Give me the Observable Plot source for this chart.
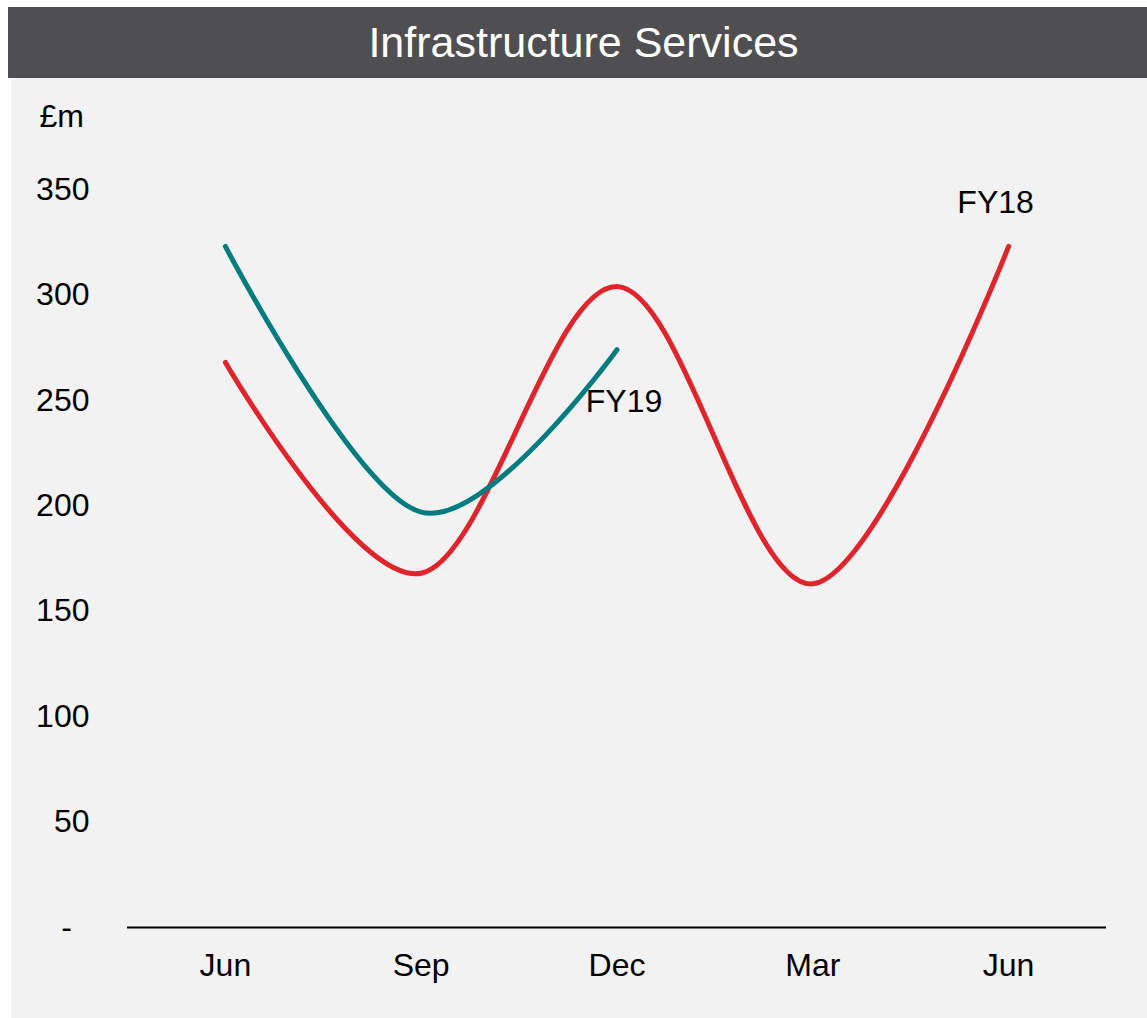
<!DOCTYPE html>
<html>
<head>
<meta charset="utf-8">
<script src="https://cdn.jsdelivr.net/npm/d3@7"></script>
<script src="https://cdn.jsdelivr.net/npm/@observablehq/plot@0.6"></script>
<style>
  html, body { margin: 0; padding: 0; background: #ffffff; }
  body { width: 1147px; height: 1018px; position: relative; overflow: hidden;
         font-family: "Liberation Sans", Arial, sans-serif; }
  #title { position: absolute; left: 8px; top: 7px; width: 1127px; padding-left: 12px; height: 71px;
           background: #4f4f51; color: #ffffff; font-size: 43px; line-height: 71px;
           text-align: center; }
  #panel { position: absolute; left: 11px; top: 78px; width: 1136px; height: 940px;
           background: #f2f2f2; }
  #panel svg { display: block; }
</style>
</head>
<body>
<div id="title">Infrastructure Services</div>
<div id="panel"></div>
<script>
// Quarter-end labels along the x axis (FY18 runs Jun → Jun)
const months = ["Jun", "Sep", "Dec", "Mar", "Jun"];

// Revenue, £m, per quarter
const fy18 = [268, 168, 304, 163, 323];
const fy19 = [323, 197, 274];

const yTicks = [0, 50, 100, 150, 200, 250, 300, 350];

const rows = [
  ...fy18.map((v, i) => ({series: "FY18", q: i, value: v})),
  ...fy19.map((v, i) => ({series: "FY19", q: i, value: v}))
];
const last18 = rows.filter(d => d.series === "FY18").at(-1);
const last19 = rows.filter(d => d.series === "FY19").at(-1);

const FS = 32;

const chart = Plot.plot({
  width: 1136,
  height: 940,
  marginLeft: 116,
  marginRight: 41,
  marginTop: 111,
  marginBottom: 91,
  style: {background: "transparent", fontFamily: "Liberation Sans, Arial, sans-serif", fontSize: FS + "px", color: "#000"},
  x: {type: "point", domain: months.map((_, i) => i), padding: 0.5, round: false},
  y: {domain: [0, 350]},
  color: {domain: ["FY18", "FY19"], range: ["#e0242b", "#007c80"]},
  marks: [
    Plot.axisY(yTicks, {tickSize: 0, tickPadding: 38, label: null,
      tickFormat: d => d === 0 ? "" : d3.format(",")(d), fontSize: FS}),
    Plot.text([0], {y: d => d, frameAnchor: "left", dx: -61, textAnchor: "middle",
      text: () => "-", fontSize: FS}),
    Plot.axisX({tickSize: 0, tickPadding: 26, label: null,
      tickFormat: i => months[i], fontSize: FS}),
    Plot.text(["£m"], {frameAnchor: "top-left", lineAnchor: "middle", dx: -88, dy: -73,
      textAnchor: "start", fontSize: FS}),
    Plot.ruleY([0], {stroke: "#000", strokeWidth: 2}),
    Plot.line(rows, {x: "q", y: "value", z: "series", stroke: "series",
      strokeWidth: 5, curve: "cardinal", strokeLinecap: "round"}),
    Plot.text([last18], {x: "q", y: "value", text: "series", dx: -13, dy: -44, fontSize: FS}),
    Plot.text([last19], {x: "q", y: "value", text: "series", dx: 7, dy: 52, fontSize: FS})
  ]
});
document.getElementById("panel").appendChild(chart);
</script>
</body>
</html>
